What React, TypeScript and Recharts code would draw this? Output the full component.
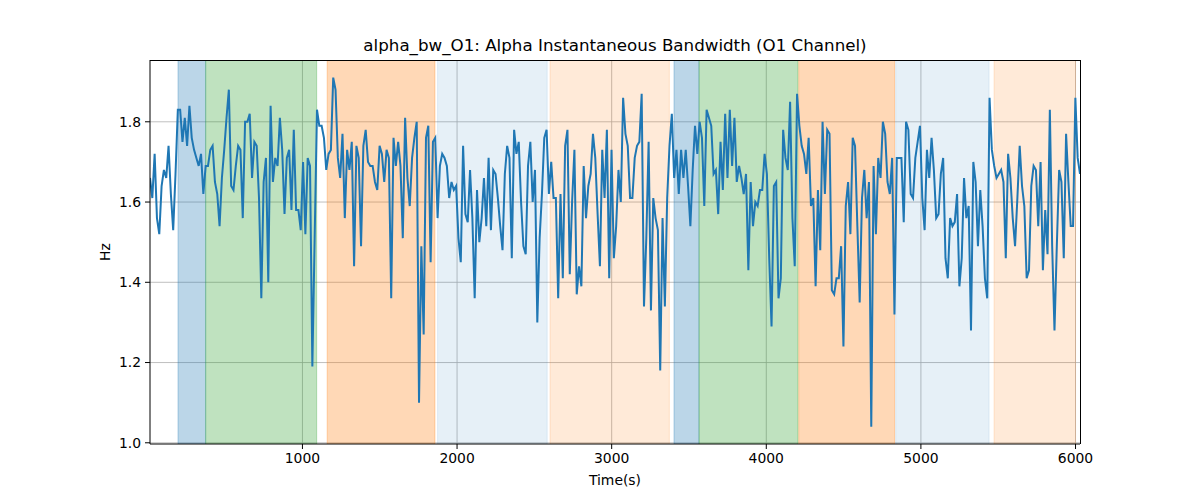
import { LineChart, Line, XAxis, YAxis, CartesianGrid, ReferenceArea } from 'recharts'

// sampling: first timestamp and step (s)
const T0 = 14
const STEP = 15

// alpha bandwidth, Hz (left to right)
const BW_VALUES = [
  1.66, 1.61, 1.72, 1.56, 1.52, 1.64, 1.68, 1.66, 1.74, 1.62, 1.53, 1.67, 1.83, 1.83, 1.75, 1.81, 1.74, 1.84, 1.76, 1.73,
  1.71, 1.69, 1.72, 1.62, 1.69, 1.69, 1.73, 1.74, 1.65, 1.62, 1.54, 1.66, 1.73, 1.81, 1.88, 1.64, 1.63, 1.69, 1.74, 1.73,
  1.56, 1.80, 1.80, 1.82, 1.66, 1.75, 1.74, 1.61, 1.36, 1.65, 1.71, 1.40, 1.84, 1.65, 1.71, 1.69, 1.81, 1.73, 1.57, 1.71,
  1.73, 1.58, 1.78, 1.58, 1.58, 1.53, 1.70, 1.52, 1.71,
  1.69, 1.19, 1.51, 1.83, 1.79, 1.79, 1.76, 1.68, 1.72, 1.73, 1.91, 1.88, 1.71, 1.66, 1.77, 1.56, 1.73, 1.68, 1.75, 1.44,
  1.74, 1.71, 1.49, 1.74, 1.78, 1.70, 1.69, 1.69, 1.65, 1.63, 1.74, 1.72, 1.65, 1.73, 1.71, 1.36, 1.76, 1.69, 1.75, 1.69,
  1.51, 1.81, 1.66, 1.59, 1.71, 1.76, 1.80, 1.10, 1.49, 1.27, 1.76, 1.79, 1.45, 1.75, 1.76, 1.56, 1.69, 1.72, 1.71, 1.69,
  1.61, 1.65, 1.63, 1.64, 1.51, 1.45,
  1.74, 1.57, 1.55, 1.68, 1.56, 1.36, 1.63, 1.50, 1.56, 1.66, 1.54, 1.71, 1.53, 1.68, 1.67, 1.61, 1.54, 1.48, 1.67, 1.74,
  1.71, 1.46, 1.78, 1.72, 1.75, 1.60, 1.49, 1.47, 1.69, 1.75, 1.60, 1.68, 1.30, 1.51, 1.62, 1.76, 1.78, 1.62, 1.70, 1.61,
  1.61, 1.36, 1.62, 1.41, 1.74, 1.78, 1.42, 1.60, 1.73, 1.37, 1.44, 1.39, 1.69, 1.56, 1.64, 1.67, 1.77, 1.71, 1.57, 1.44,
  1.73, 1.61, 1.78, 1.41, 1.73, 1.46,
  1.54, 1.68, 1.60, 1.86, 1.77, 1.74, 1.61, 1.61, 1.71, 1.74, 1.75, 1.87, 1.34, 1.51, 1.75, 1.33, 1.61, 1.56, 1.53, 1.18,
  1.56, 1.34, 1.61, 1.74, 1.82, 1.66, 1.73, 1.62, 1.73, 1.66, 1.73, 1.64, 1.54, 1.68, 1.79, 1.72, 1.80, 1.76, 1.59, 1.83,
  1.81, 1.79, 1.67, 1.68, 1.57, 1.75, 1.63, 1.82, 1.66, 1.83, 1.69, 1.81, 1.65, 1.69, 1.66, 1.62, 1.67, 1.43, 1.65, 1.54,
  1.60, 1.59, 1.63, 1.63, 1.72, 1.67, 1.46,
  1.29, 1.64, 1.65, 1.36, 1.41, 1.78, 1.71, 1.68, 1.85, 1.56, 1.44, 1.87, 1.79, 1.74, 1.72, 1.67, 1.76, 1.59, 1.61, 1.39,
  1.63, 1.48, 1.80, 1.62, 1.78, 1.77, 1.38, 1.37, 1.41, 1.41, 1.49, 1.24, 1.59, 1.65, 1.52, 1.76, 1.74, 1.54, 1.35, 1.61,
  1.68, 1.56, 1.65, 1.04, 1.69, 1.52, 1.71, 1.66, 1.80, 1.77, 1.65, 1.62, 1.71, 1.32, 1.71, 1.71, 1.71, 1.55, 1.80, 1.78,
  1.62, 1.61, 1.71, 1.75, 1.79, 1.61, 1.53,
  1.73, 1.66, 1.76, 1.68, 1.56, 1.57, 1.67, 1.71, 1.46, 1.41, 1.56, 1.54, 1.55, 1.62, 1.39, 1.46, 1.66, 1.56, 1.59, 1.28,
  1.70, 1.65, 1.49, 1.63, 1.54, 1.41, 1.36, 1.86, 1.73, 1.69, 1.66, 1.67, 1.68, 1.65, 1.46, 1.72, 1.66, 1.56, 1.49, 1.61,
  1.74, 1.64, 1.59, 1.41, 1.43, 1.64, 1.69, 1.68, 1.54, 1.70, 1.43, 1.58, 1.47, 1.83, 1.49, 1.28, 1.49, 1.68, 1.65, 1.46,
  1.77, 1.65, 1.54, 1.54, 1.86, 1.71, 1.67,
]

const X_TICKS = [1000, 2000, 3000, 4000, 5000, 6000]
const Y_TICKS = [1.0, 1.2, 1.4, 1.6, 1.8]

// shaded task segments (seconds)
const SPAN_START = [195, 374, 1160, 1874, 2601, 3403, 3565, 4210, 4837, 5473]
const SPAN_END = [374, 1092, 1857, 2583, 3373, 3565, 4205, 4830, 5441, 6000]
const SPAN_KIND = ['blue', 'green', 'orange', 'paleBlue', 'paleOrange', 'blue', 'green', 'orange', 'paleBlue', 'paleOrange']

const SPAN_STYLE: Record<string, { color: string; alpha: number }> = {
  blue:       { color: '#1f77b4', alpha: 0.3 },
  green:      { color: '#2ca02c', alpha: 0.3 },
  orange:     { color: '#ff7f0e', alpha: 0.3 },
  paleBlue:   { color: '#1f77b4', alpha: 0.11 },
  paleOrange: { color: '#ff7f0e', alpha: 0.16 },
}

const data = BW_VALUES.map((v, i) => ({ t: T0 + i * STEP, bw: v }))

const FONT = '"DejaVu Sans", sans-serif'
const tickStyle = { fill: '#000', fontSize: 13.9, fontFamily: FONT }

export default function App() {
  return (
    <div style={{ position: 'fixed', left: 0, top: 0, width: 1200, height: 500, background: '#fff', fontFamily: FONT }}>
      <div style={{ position: 'absolute', left: 150, width: 930, top: 35, textAlign: 'center', fontSize: 16.7, lineHeight: '20px', color: '#000' }}>
        alpha_bw_O1: Alpha Instantaneous Bandwidth (O1 Channel)
      </div>
      <div style={{ position: 'absolute', left: 615 - 60, width: 120, top: 471, textAlign: 'center', fontSize: 13.9, lineHeight: '18px', color: '#000' }}>
        Time(s)
      </div>
      <div style={{ position: 'absolute', left: 105 - 30, top: 252 - 9, width: 60, textAlign: 'center', fontSize: 13.9, lineHeight: '18px', color: '#000', transform: 'rotate(-90deg)' }}>
        Hz
      </div>

      <LineChart width={1200} height={500} data={data} margin={{ top: 60, right: 120, bottom: 26, left: 100 }}>
        {SPAN_START.map((s, i) => {
          const st = SPAN_STYLE[SPAN_KIND[i]]
          return (
            <ReferenceArea
              key={i}
              x1={s}
              x2={SPAN_END[i]}
              fill={st.color}
              fillOpacity={st.alpha}
              stroke={st.color}
              strokeOpacity={st.alpha}
              strokeWidth={1}
              ifOverflow="hidden"
            />
          )
        })}
        <CartesianGrid stroke="#b0b0b0" strokeWidth={0.8} horizontalValues={Y_TICKS} verticalValues={X_TICKS} />
        <XAxis
          dataKey="t"
          type="number"
          domain={[14, 6029]}
          ticks={X_TICKS}
          allowDataOverflow
          height={30}
          tickSize={5}
          tickMargin={4}
          tick={tickStyle}
          stroke="#000"
          tickLine={{ stroke: '#000' }}
          axisLine={{ stroke: '#000', strokeWidth: 1 }}
        />
        <YAxis
          type="number"
          domain={[0.997, 1.954]}
          ticks={Y_TICKS}
          allowDataOverflow
          width={50}
          tickSize={5}
          tickMargin={4}
          tick={tickStyle}
          tickFormatter={(v: number) => v.toFixed(1)}
          tickLine={{ stroke: '#000' }}
          axisLine={{ stroke: '#000', strokeWidth: 1 }}
        />
        <Line
          type="linear"
          dataKey="bw"
          stroke="#1f77b4"
          strokeWidth={2}
          dot={false}
          isAnimationActive={false}
        />
      </LineChart>

      {/* top and right spines */}
      <div style={{ position: 'absolute', left: 150, top: 60, width: 930.5, height: 384, boxSizing: 'border-box', borderTop: '1px solid #000', borderRight: '1px solid #000', pointerEvents: 'none' }} />
    </div>
  )
}
